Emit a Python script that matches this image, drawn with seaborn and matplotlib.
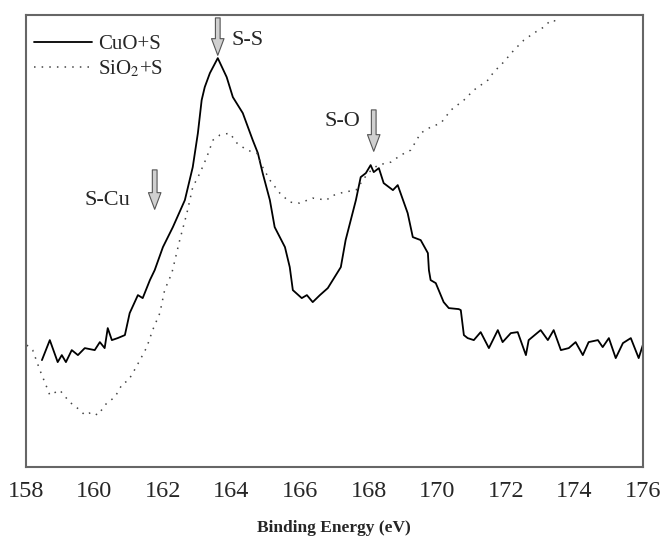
import numpy as np
import pandas as pd
import matplotlib
matplotlib.use("Agg")
import matplotlib.pyplot as plt
import seaborn as sns

# Binding energy (eV) and intensity (a.u.)
cuo_energy = [158.47, 158.70, 158.93, 159.05, 159.17, 159.34, 159.52, 159.72, 160.01, 160.16,
              160.30, 160.39, 160.51, 160.68, 160.89, 161.03, 161.27, 161.41, 161.62, 161.76,
              162.00, 162.29, 162.64, 162.87, 163.02, 163.13, 163.22, 163.37, 163.60, 163.86,
              164.04, 164.33, 164.62, 164.77, 164.91, 165.12, 165.26, 165.56, 165.70, 165.79,
              166.05, 166.20, 166.37, 166.58, 166.81, 167.19, 167.33, 167.63, 167.77, 167.92,
              168.06, 168.15, 168.30, 168.44, 168.71, 168.85, 169.14, 169.29, 169.52, 169.73,
              169.76, 169.81, 169.96, 170.19, 170.34, 170.63, 170.69, 170.78, 170.89, 171.07,
              171.27, 171.51, 171.77, 171.91, 172.15, 172.35, 172.59, 172.67, 173.02, 173.23,
              173.40, 173.61, 173.84, 174.04, 174.25, 174.42, 174.69, 174.83, 175.01, 175.21,
              175.42, 175.65, 175.88, 176.00]
cuo_intensity = [107, 127, 105, 112, 105, 117, 112, 119, 117, 125,
                 119, 139, 127, 129, 132, 154, 172, 169, 187, 197,
                 220, 240, 267, 300, 334, 367, 380, 394, 409, 390,
                 370, 354, 327, 314, 294, 267, 240, 220, 200, 177,
                 169, 172, 165, 172, 179, 200, 227, 267, 290, 294,
                 302, 295, 299, 284, 277, 282, 254, 230, 227, 214,
                 197, 187, 184, 165, 159, 158, 157, 132, 129, 127,
                 135, 119, 137, 125, 134, 135, 112, 127, 137, 127,
                 137, 117, 119, 125, 112, 125, 127, 120, 129, 109,
                 124, 129, 109, 122]

sio2_energy = [158.03, 158.20, 158.41, 158.61, 158.70, 158.99, 159.28, 159.58, 159.72, 159.93,
               160.10, 160.36, 160.60, 160.83, 160.98, 161.12, 161.33, 161.53, 161.70, 161.91,
               162.05, 162.26, 162.49, 162.70, 162.87, 163.08, 163.28, 163.46, 163.66, 163.95,
               164.16, 164.45, 164.74, 164.91, 165.12, 165.41, 165.70, 165.99, 166.37, 166.78,
               166.90, 167.28, 167.63, 167.98, 168.27, 168.65, 168.94, 169.23, 169.52, 169.81,
               170.11, 170.40, 170.78, 171.07, 171.48, 171.65, 171.94, 172.24, 172.53, 172.82,
               173.11, 173.32, 173.61]
sio2_intensity = [122, 117, 97, 80, 72, 77, 65, 57, 52, 55,
                  52, 64, 70, 84, 86, 94, 107, 120, 137, 154,
                  177, 194, 227, 254, 280, 294, 310, 327, 332, 334,
                  324, 317, 314, 300, 287, 274, 265, 264, 269, 267,
                  271, 275, 277, 294, 302, 305, 312, 317, 334, 340,
                  344, 357, 367, 377, 387, 395, 405, 417, 427, 434,
                  440, 447, 445]

xticks = [158, 160, 162, 164, 166, 168, 170, 172, 174, 176]

# peak assignments: label, energy of arrow, arrow tip intensity
peaks = [("S-S", 163.6, 409), ("S-Cu", 161.76, 255), ("S-O", 168.15, 313)]

df = pd.concat([
    pd.DataFrame({"energy": cuo_energy, "intensity": cuo_intensity, "sample": "CuO+S"}),
    pd.DataFrame({"energy": sio2_energy, "intensity": sio2_intensity, "sample": "SiO2+S"}),
])

sns.set_style("white")
plt.rcParams["font.family"] = ["Liberation Serif", "DejaVu Serif"]
plt.rcParams["mathtext.fontset"] = "stix"

fig = plt.figure(figsize=(6.62, 5.40), dpi=100)
ax = fig.add_axes([0.039, 0.135, 0.932, 0.837])

sns.lineplot(data=df[df["sample"] == "CuO+S"], x="energy", y="intensity", sort=False,
             color="black", linewidth=1.3, label="CuO+S", ax=ax)
sns.lineplot(data=df[df["sample"] == "SiO2+S"], x="energy", y="intensity", sort=False,
             color="#444444", linewidth=1.1, linestyle=(0, (1, 4)), label="SiO$_2$+S", ax=ax)

ax.set_xlim(158, 176)
ax.set_ylim(0, 452)
ax.set_xticks(xticks)
ax.set_yticks([])
ax.tick_params(axis="x", direction="in", length=6, width=1.2, color="#555555",
               labelsize=17.5, pad=10)
ax.set_xlabel("Binding Energy (eV)", fontsize=12.5, fontweight="bold", labelpad=13)
ax.set_ylabel("")
for sp in ax.spines.values():
    sp.set_color("#666666")
    sp.set_linewidth(1.5)

arrow = dict(arrowstyle="simple,head_width=0.45,head_length=0.6,tail_width=0.17",
             fc="#d0d0d0", ec="#555555", lw=0.8, mutation_scale=20)
name, x, y = peaks[0]
ax.annotate("", xy=(x, y), xytext=(x, 452), arrowprops=arrow)
ax.text(x + 0.4, 427, name, fontsize=16, ha="left", va="center")
name, x, y = peaks[1]
ax.annotate("", xy=(x, y), xytext=(x, y + 45), arrowprops=arrow)
ax.text(x - 0.7, y + 12, name, fontsize=16, ha="right", va="center")
name, x, y = peaks[2]
ax.annotate("", xy=(x, y), xytext=(x, y + 47), arrowprops=arrow)
ax.text(x - 0.4, y + 33, name, fontsize=16, ha="right", va="center")

ax.legend(loc="upper left", bbox_to_anchor=(-0.01, 0.99), frameon=False, fontsize=15,
          handlelength=2.75, handletextpad=0.3, labelspacing=0.25, borderaxespad=0.3)

fig.savefig("out.png", dpi=100)
